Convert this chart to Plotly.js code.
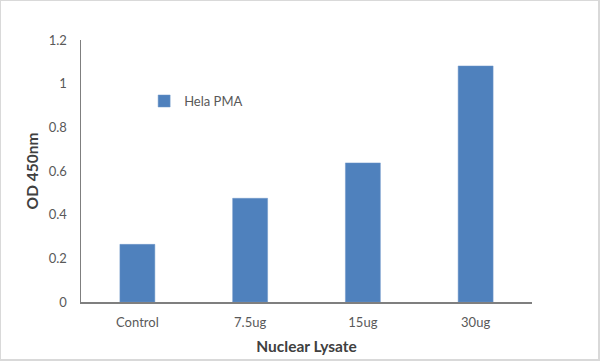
<!DOCTYPE html>
<html>
<head>
<meta charset="utf-8">
<script src="https://cdn.plot.ly/plotly-3.0.1.min.js"></script>
<style>
html,body{margin:0;padding:0;background:#fff;}
#wrap{width:600px;height:361px;box-sizing:border-box;border:1px solid #d9d9d9;border-right-width:2px;border-bottom-width:2px;overflow:hidden;}
#chart{width:597px;height:358px;}
</style>
</head>
<body>
<div id="wrap"><div id="chart"></div></div>
<script>
const categories = ["Control", "7.5ug", "15ug", "30ug"];
const helaPMA = [0.264, 0.475, 0.637, 1.081];
const seriesName = "Hela PMA";
const yTicks = [0, 0.2, 0.4, 0.6, 0.8, 1, 1.2];

const font = "Lato, 'Liberation Sans', sans-serif";
const data = [{
  type: "bar",
  x: categories,
  y: helaPMA,
  name: seriesName,
  marker: {color: "#4f81bd", line: {color: "#6f97c8", width: 0.5}},
  showlegend: true
}];
const layout = {
  width: 597, height: 358,
  margin: {l: 80, r: 66, t: 39, b: 57},
  paper_bgcolor: "#fff", plot_bgcolor: "#fff",
  font: {family: font, size: 13, color: "#595959"},
  bargap: 0.69,
  showlegend: true,
  legend: {x: 0.14, y: 0.767, xanchor: "left", yanchor: "middle", bgcolor: "rgba(0,0,0,0)",
           font: {family: font, size: 13, color: "#595959"}},
  xaxis: {
    showgrid: false, zeroline: false, showline: true, linecolor: "#7f7f7f", linewidth: 1.5,
    ticks: "", ticklabelstandoff: 8, tickfont: {family: font, size: 13, color: "#595959"},
    title: {text: "Nuclear Lysate", font: {family: font, size: 15.5, color: "#404040", weight: "bold"}, standoff: 12}
  },
  yaxis: {
    range: [0, 1.2], tickvals: yTicks, showgrid: false, zeroline: false,
    showline: true, linecolor: "#7f7f7f", linewidth: 1.5, ticks: "",
    ticklabelstandoff: 10,
    tickfont: {family: font, size: 13, color: "#595959"},
    title: {text: "OD 450nm", font: {family: font, size: 15.5, color: "#404040", weight: "bold"}, standoff: 6}
  }
};
Plotly.newPlot("chart", data, layout, {displayModeBar: false, staticPlot: true});
</script>
</body>
</html>
